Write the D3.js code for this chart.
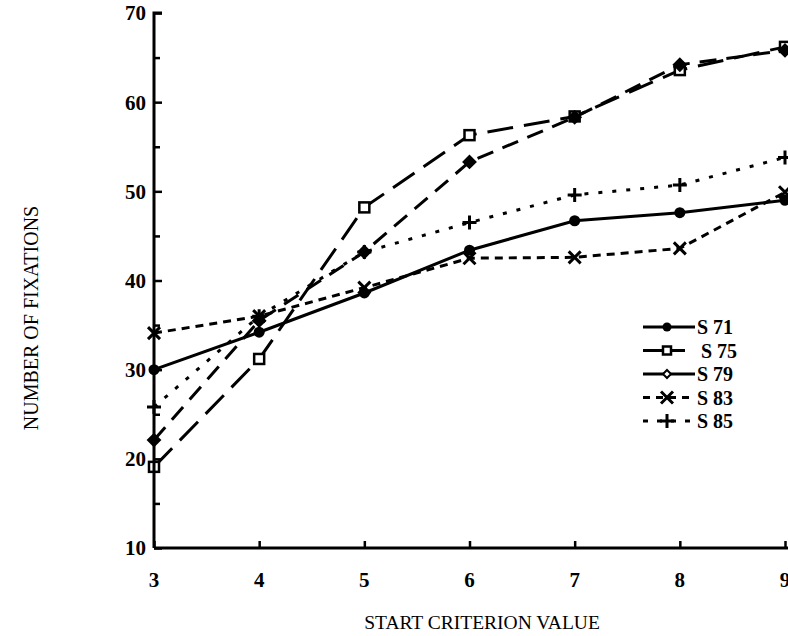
<!DOCTYPE html>
<html><head><meta charset="utf-8">
<script src="https://cdn.jsdelivr.net/npm/d3@7/dist/d3.min.js"></script>
<style>body{margin:0;background:#fff}svg{display:block}</style>
</head><body>
<script>
const xValues = [3, 4, 5, 6, 7, 8, 9];
const seriesNames = ["S 71", "S 75", "S 79", "S 83", "S 85"];
const s71 = [30.0, 34.2, 38.6, 43.4, 46.7, 47.6, 49.0];
const s75 = [19.1, 31.2, 48.2, 56.3, 58.4, 63.6, 66.2];
const s79 = [22.1, 35.5, 43.2, 53.3, 58.3, 64.2, 65.8];
const s83 = [34.1, 36.0, 39.2, 42.5, 42.6, 43.6, 49.9];
const s85 = [25.8, 36.0, 43.2, 46.5, 49.6, 50.7, 53.8];
const yTicks = [10, 20, 30, 40, 50, 60, 70];
const yMinorTicks = [15, 25, 35, 45, 55, 65];
const xTitle = "START CRITERION VALUE";
const yTitle = "NUMBER OF FIXATIONS";

const W = 788, H = 636;
const svg = d3.select("body").append("svg").attr("width", W).attr("height", H);
const x = d3.scaleLinear().domain([3, 9]).range([154, 785]);
const y = d3.scaleLinear().domain([10, 70]).range([548, 13]);
const font = "'Liberation Serif', 'DejaVu Serif', serif";

const series = [
  {name: seriesNames[0], data: s71, dash: null, marker: "circle"},
  {name: seriesNames[1], data: s75, dash: "26,11", marker: "square"},
  {name: seriesNames[2], data: s79, dash: "17,10", marker: "diamond"},
  {name: seriesNames[3], data: s83, dash: "8,6", marker: "x"},
  {name: seriesNames[4], data: s85, dash: "4,10", marker: "plus"}
];

function drawMarker(g, type, cx, cy, legend) {
  if (type === "circle") {
    g.append("circle").attr("cx", cx).attr("cy", cy).attr("r", legend ? 4.5 : 5.5).attr("fill", "#000");
  } else if (type === "square") {
    const s = legend ? 8 : 10;
    g.append("rect").attr("x", cx - s/2).attr("y", cy - s/2).attr("width", s).attr("height", s)
      .attr("fill", "#fff").attr("stroke", "#000").attr("stroke-width", 2.5);
  } else if (type === "diamond") {
    const s = legend ? 4 : 6;
    g.append("path").attr("d", `M${cx},${cy-s}L${cx+s},${cy}L${cx},${cy+s}L${cx-s},${cy}Z`)
      .attr("fill", legend ? "#fff" : "#000").attr("stroke", "#000").attr("stroke-width", 2);
  } else if (type === "x") {
    const s = 6;
    g.append("path").attr("d", `M${cx-s},${cy-s}L${cx+s},${cy+s}M${cx-s},${cy+s}L${cx+s},${cy-s}`)
      .attr("stroke", "#000").attr("stroke-width", 3).attr("fill", "none");
  } else if (type === "plus") {
    const s = 7;
    g.append("path").attr("d", `M${cx-s},${cy}L${cx+s},${cy}M${cx},${cy-s}L${cx},${cy+s}`)
      .attr("stroke", "#000").attr("stroke-width", 3).attr("fill", "none");
  }
}

// lines
const line = d3.line().x((d, i) => x(xValues[i])).y(d => y(d));
series.forEach(s => {
  svg.append("path").attr("d", line(s.data)).attr("fill", "none").attr("stroke", "#000")
    .attr("stroke-width", 3).attr("stroke-dasharray", s.dash).attr("stroke-linecap", "butt");
});
series.forEach(s => {
  const g = svg.append("g");
  s.data.forEach((v, i) => drawMarker(g, s.marker, x(xValues[i]), y(v), false));
});

// axes
const yAxis = svg.append("g").attr("transform", `translate(${x(3)},0)`)
  .call(d3.axisRight(y).tickValues(yTicks).tickSize(8).tickFormat(""));
yAxis.select(".domain").attr("d", `M8,${y(70)}H0V${y(10)}`).attr("stroke-width", 3);
yAxis.selectAll(".tick line").attr("stroke-width", 2.5);
svg.append("g").attr("transform", `translate(${x(3)},0)`)
  .call(d3.axisRight(y).tickValues(yMinorTicks).tickSize(6).tickFormat(""))
  .call(g => g.select(".domain").remove())
  .selectAll(".tick line").attr("stroke-width", 2.5);
yTicks.forEach(t => {
  svg.append("text").attr("x", 146).attr("y", y(t)).attr("dy", "0.35em").attr("text-anchor", "end")
    .attr("font-family", font).attr("font-weight", "bold").attr("font-size", 21).text(t);
});

const xAxis = svg.append("g").attr("transform", `translate(0,${y(10)})`)
  .call(d3.axisTop(x).tickValues(xValues).tickSize(7).tickFormat(""));
xAxis.select(".domain").attr("d", `M${x(3)},0H${W}`).attr("stroke-width", 3);
xAxis.selectAll(".tick line").attr("stroke-width", 2.5);
xValues.forEach(t => {
  svg.append("text").attr("x", x(t)).attr("y", 580).attr("dy", "0.35em").attr("text-anchor", "middle")
    .attr("font-family", font).attr("font-weight", "bold").attr("font-size", 21).text(t);
});

svg.append("text").attr("x", 482).attr("y", 629).attr("text-anchor", "middle")
  .attr("font-family", font).attr("font-size", 19.5).text(xTitle);
svg.append("text").attr("transform", "translate(38,318) rotate(-90)").attr("text-anchor", "middle")
  .attr("font-family", font).attr("font-size", 20).text(yTitle);

// legend
const legendDash = [null, null, null, "7,6", "5,9"];
series.forEach((s, i) => {
  const ly = 327 + i * 23.5;
  const g = svg.append("g");
  const x2 = i === 1 ? 685 : 695;
  g.append("line").attr("x1", 643).attr("x2", x2).attr("y1", ly).attr("y2", ly)
    .attr("stroke", "#000").attr("stroke-width", 3).attr("stroke-dasharray", legendDash[i]);
  drawMarker(g, s.marker, 667, ly, true);
  g.append("text").attr("x", i === 1 ? 701 : 697).attr("y", ly).attr("dy", "0.35em")
    .attr("font-family", font).attr("font-weight", "bold").attr("font-size", 20).text(s.name);
});
</script>
</body></html>
